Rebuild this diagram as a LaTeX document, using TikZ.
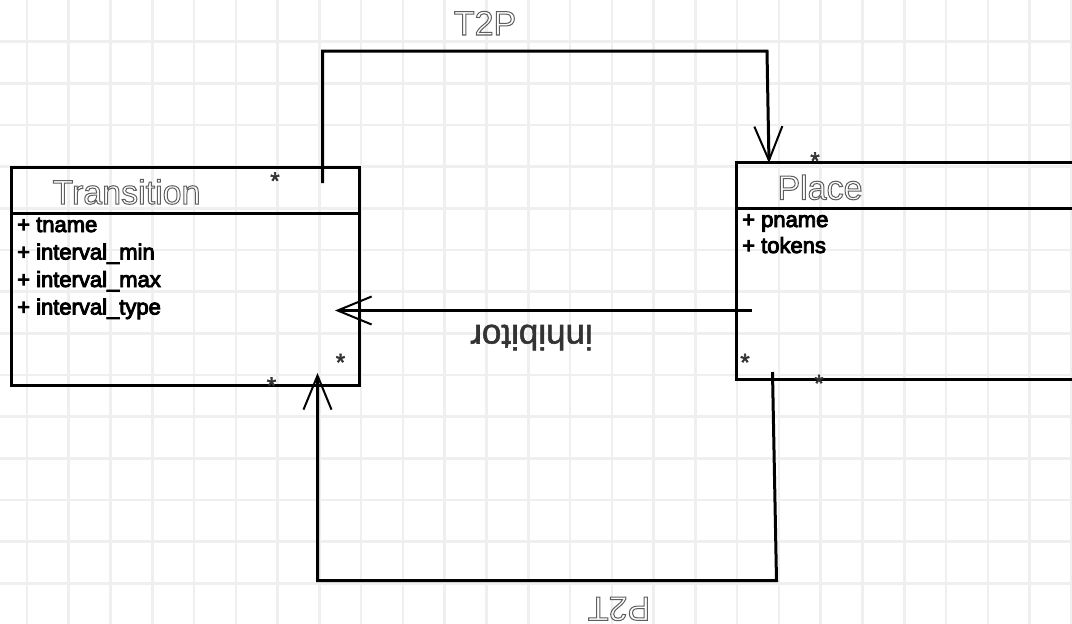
\documentclass[tikz,border=0pt]{standalone}
\usepackage{fontspec}
\setmainfont{Liberation Sans}
\usetikzlibrary{arrows.meta}
\definecolor{gridgray}{HTML}{EFEFEF}
\definecolor{titlegray}{HTML}{5E5E5E}
\definecolor{multgray}{HTML}{333333}
\newcommand{\hollowtext}[1]{\special{pdf:literal direct 1 Tr 1.0 w}#1\special{pdf:literal direct 0 Tr 0.4 w}}
\newcommand{\heavytext}[1]{\special{pdf:literal direct 2 Tr 0.55 w}#1\special{pdf:literal direct 0 Tr 0.4 w}}
\newcommand{\boldishtext}[1]{\special{pdf:literal direct 2 Tr 0.9 w}#1\special{pdf:literal direct 0 Tr 0.4 w}}
\begin{document}
\begin{tikzpicture}[x=1pt,y=-1pt,
  gridline/.style={draw=gridgray, line width=2.6pt},
  umlbox/.style={draw=black, line width=3pt},
  conn/.style={draw=black, line width=3pt, line join=miter},
  openarrow/.style={-{Straight Barb[length=34pt,width=28pt,line width=2pt]}},
  attr/.style={anchor=base west, inner sep=0pt, font=\fontsize{22}{22}\selectfont},
  titletext/.style={anchor=base, inner sep=0pt, font=\fontsize{34}{34}\selectfont, text=titlegray},
  flipped/.style={anchor=base, inner sep=0pt, rotate=180},
  mult/.style={anchor=base, inner sep=0pt, font=\fontsize{24}{24}\selectfont, text=multgray}]
\useasboundingbox (0,0) rectangle (1072,624);
\clip (0,0) rectangle (1072,624);
\fill[white] (0,0) rectangle (1072,624);
% grid
\foreach \i in {0,...,25} \draw[gridline] ({26.9+41.78*\i},0) -- ({26.9+41.78*\i},624);
\foreach \j in {1,...,14} \draw[gridline] (0,{41.67*\j}) -- (1072,{41.67*\j});

% Transition class
\node[umlbox, rectangle, inner sep=0pt, minimum width=348pt, minimum height=218pt] (trans) at (185,276.5) {};
\coordinate (transhl) at (11,213);
\coordinate (transhr) at (359,213);
\draw[umlbox] (transhl) -- (transhr);
\node[titletext] (transtitle) at (126.5,204) {\hollowtext{Transition}};
\node[attr] (ta1) at (17,232) {\boldishtext{+ tname}};
\node[attr] (ta2) at (17,259.5) {\boldishtext{+ interval\_min}};
\node[attr] (ta3) at (17,287) {\boldishtext{+ interval\_max}};
\node[attr] (ta4) at (17,314.5) {\boldishtext{+ interval\_type}};

% Place class (right side runs past the edge)
\node[umlbox, rectangle, inner sep=0pt, minimum width=380pt, minimum height=217pt] (place) at (926,270.5) {};
\coordinate (placehl) at (736,208);
\coordinate (placehr) at (1120,208);
\draw[umlbox] (placehl) -- (placehr);
\node[titletext] (placetitle) at (820,199.5) {\hollowtext{Place}};
\node[attr] (pa1) at (742,227) {\boldishtext{+ pname}};
\node[attr] (pa2) at (742,253) {\boldishtext{+ tokens}};

% T2P
\coordinate (t2ps) at (322.5,183);
\coordinate (t2pc1) at (322.5,51);
\coordinate (t2pc2) at (767,51);
\coordinate (t2pe) at (769,163);
\draw[conn, openarrow] (t2ps) -- (t2pc1) -- (t2pc2) -- (t2pe);
\node[titletext] (t2plabel) at (485,35) {\hollowtext{T2P}};

% inhibitor
\coordinate (inhs) at (752,310.5);
\coordinate (inhe) at (335,310.5);
\draw[conn, openarrow] (inhs) -- (inhe);
\node[flipped, font=\fontsize{35}{35}\selectfont, text=black!80] (inhlabel) at (531.5,325) {\heavytext{inhibitor}};

% P2T
\coordinate (p2ts) at (772.5,372);
\coordinate (p2tc1) at (776.5,580.5);
\coordinate (p2tc2) at (317.5,580.5);
\coordinate (p2te) at (317.5,373);
\draw[conn, openarrow] (p2ts) -- (p2tc1) -- (p2tc2) -- (p2te);
\node[flipped, font=\fontsize{34}{34}\selectfont, text=titlegray] (p2tlabel) at (619,597) {\hollowtext{P2T}};

% multiplicities
\node[mult] (m1) at (275,189) {\heavytext{*}};
\node[mult] (m2) at (340.5,370.5) {\heavytext{*}};
\node[mult] (m3) at (271.5,394) {\heavytext{*}};
\node[mult] (m4) at (815,169) {\heavytext{*}};
\node[mult] (m5) at (745,370.5) {\heavytext{*}};
\node[mult] (m6) at (819,391.5) {\heavytext{*}};
\end{tikzpicture}
\end{document}
